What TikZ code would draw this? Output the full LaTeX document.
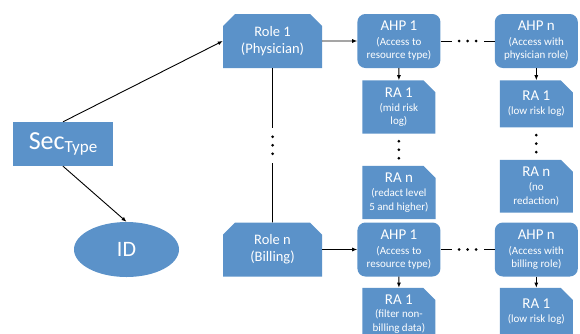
\documentclass[tikz,border=0pt]{standalone}
\usepackage{fontspec}
\setmainfont{Carlito}
\usetikzlibrary{arrows.meta, positioning, shapes.geometric, shapes.misc}
\definecolor{boxblue}{RGB}{91,146,201}
\newcommand{\boxhead}[1]{{\fontsize{15}{15}\selectfont #1}}
\tikzset{%
   % common look of all the blue boxes
   base/.style={
      fill=boxblue,
      text=white,
      align=center,
      inner sep=1pt,
      font=\fontsize{11}{13.3}\selectfont
   },
   role/.style={
      base,
      chamfered rectangle,
      chamfered rectangle corners={north west, north east},
      chamfered rectangle xsep=6pt,
      chamfered rectangle ysep=6pt,
      minimum width=99pt,
      minimum height=54pt,
      font=\fontsize{14.5}{17}\selectfont
   },
   ahp/.style={
      base,
      rectangle,
      rounded corners=8pt,
      minimum width=83pt,
      minimum height=54pt
   },
   ra/.style={
      base,
      chamfered rectangle,
      chamfered rectangle corners=north east,
      chamfered rectangle xsep=6pt,
      chamfered rectangle ysep=6pt,
      minimum width=73pt,
      minimum height=47pt
   },
   arr/.style={
      -{Latex[length=5pt,width=4pt]},
      line width=.9pt
   },
   vgap/.style={
      fill=white, inner sep=0pt, minimum width=4pt, minimum height=#1,
      path picture={
         \fill[black] (path picture bounding box.center) circle (1.5pt)
            ++(0,8.5pt) circle (1.5pt) ++(0,-17pt) circle (1.5pt);
      }
   },
   hgap/.style={
      fill=white, inner sep=0pt, minimum height=4pt, minimum width=#1,
      path picture={
         \fill[black] (path picture bounding box.center) circle (1.5pt)
            ++(8.5pt,0) circle (1.5pt) ++(-17pt,0) circle (1.5pt);
      }
   },
}

\begin{document}
\begin{tikzpicture}[x=1pt, y=-1pt]
\clip (0,0) rectangle (580,333);
\node[base, rectangle, minimum width=100pt, minimum height=44pt, font=\fontsize{26}{26}\selectfont]
   (sec) at (63,144) {Sec\raisebox{-.3ex}{\fontsize{17}{17}\selectfont Type}};
\node[base, ellipse, minimum width=105pt, minimum height=55pt, font=\fontsize{22}{22}\selectfont]
   (id) at (126.5,249.5) {ID};
\node[role] (role1) at (272.5,41) {Role 1\\(Physician)};
\node[role] (rolen) at (272.5,249.5) {Role n\\(Billing)};

% upper branch
\node[ahp, right=35pt of role1] (ahp1a) {\boxhead{AHP 1}\\[1.5pt](Access to\\resource type)};
\node[ahp, right=54pt of ahp1a] (ahpna) {\boxhead{AHP n}\\[1.5pt](Access with\\physician role)};
\node[ra, below=12pt of ahp1a] (ra1a) {\boxhead{RA 1}\\[1pt](mid risk\\log)};
\node[ra, below=32pt of ra1a] (rana) {\boxhead{RA n}\\[1pt](redact level\\5 and higher)};
\node[ra, below=12pt of ahpna] (ra1b) {\boxhead{RA 1}\\[1pt](low risk log)};
\node[ra, below=32pt of ra1b] (ranb) {\boxhead{RA n}\\[1pt](no\\redaction)};

% lower branch (last box runs off the bottom edge, text kept high)
\node[ahp, right=35pt of rolen] (ahp1b) {\boxhead{AHP 1}\\[1.5pt](Access to\\resource type)};
\node[ahp, right=54pt of ahp1b] (ahpnb) {\boxhead{AHP n}\\[1.5pt](Access with\\billing role)};
\node[ra, below=11pt of ahp1b] (ra1c) {\boxhead{RA 1}\\[0pt](filter non-\\billing data)\\[-4pt]\mbox{}};
\node[ra, below=11pt of ahpnb] (ra1d) {\boxhead{RA 1}\\[1pt](low risk log)};

\draw[arr] (sec.north) -- (role1.west);
\draw[arr] (sec.south) -- (id.north);
\draw[line width=.9pt] (role1) -- node[vgap=35pt] {} (rolen);
\draw[arr] (role1) -- (ahp1a);
\draw[arr] (rolen) -- (ahp1b);
\draw[line width=.9pt] (ahp1a) -- node[hgap=32pt] {} (ahpna);
\draw[line width=.9pt] (ahp1b) -- node[hgap=32pt] {} (ahpnb);
\draw[arr] (ahp1a) -- (ra1a);
\draw[arr] (ahpna.south) -- (ahpna.south |- ra1b.north);
\draw[arr] (ahp1b) -- (ra1c);
\draw[arr] (ahpnb.south) -- (ahpnb.south |- ra1d.north);
\path (ra1a) -- node[vgap=26pt] {} (rana);
\path (ra1b) -- node[vgap=26pt] {} (ranb);
\end{tikzpicture}
\end{document}
